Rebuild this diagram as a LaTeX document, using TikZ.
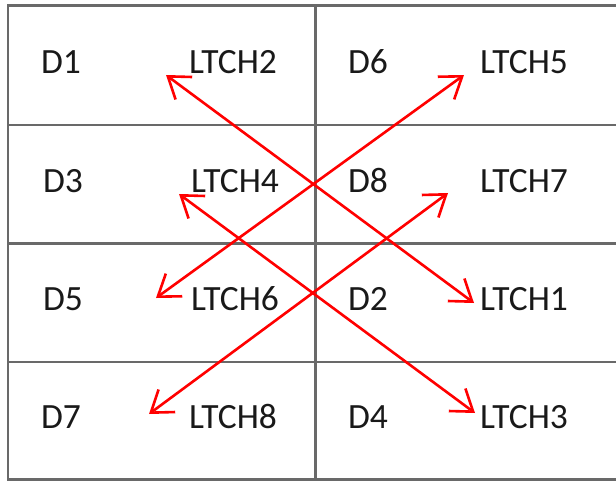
\documentclass[tikz,border=0pt]{standalone}
\usepackage{fontspec}
\setmainfont{Carlito}
\usetikzlibrary{arrows.meta}
\definecolor{gridgray}{RGB}{105,105,105}
\definecolor{arrred}{RGB}{255,0,0}
\tikzset{
  gridline/.style={draw=gridgray, line width=2.2pt},
  lbl/.style={anchor=base west, inner sep=0pt, outer sep=0pt, text=black!90,
    font=\fontsize{35.5}{42}\selectfont},
  redarrow/.style={draw=arrred, line width=2.6pt,
    {Straight Barb[length=20pt,width=28pt,line width=2.6pt]}-{Straight Barb[length=20pt,width=28pt,line width=2.6pt]}}
}
\begin{document}
\begin{tikzpicture}[x=1pt,y=-1pt]
\useasboundingbox (0,0) rectangle (616,482);
% grid
\draw[gridline] (616,5.5) -- (8,5.5) -- (8,479.5) -- (616,479.5);
\draw[gridline] (8,125) -- (616,125);
\draw[gridline] (8,243.5) -- (616,243.5);
\draw[gridline] (8,362) -- (616,362);
\draw[gridline] (315.5,5.5) -- (315.5,479.5);
% labels
\node[lbl] (D1) at (41,73) {D1};
\node[lbl] (L2) at (189,73) {LTCH2};
\node[lbl] (D6) at (348,73) {D6};
\node[lbl] (L5) at (480,73) {LTCH5};
\node[lbl] (D3) at (43,192) {D3};
\node[lbl] (L4) at (191,192) {LTCH4};
\node[lbl] (D8) at (348,192) {D8};
\node[lbl] (L7) at (480,192) {LTCH7};
\node[lbl] (D5) at (43,310) {D5};
\node[lbl] (L6) at (191,310) {LTCH6};
\node[lbl] (D2) at (348,310) {D2};
\node[lbl] (L1) at (480,310) {LTCH1};
\node[lbl] (D7) at (41,428) {D7};
\node[lbl] (L8) at (189,428) {LTCH8};
\node[lbl] (D4) at (348,428) {D4};
\node[lbl] (L3) at (480,428) {LTCH3};
% arrow end points
\coordinate (a2) at (166,75);
\coordinate (a1) at (474,303);
\coordinate (a5) at (464,75);
\coordinate (a6) at (156,298);
\coordinate (a4) at (179,194);
\coordinate (a3) at (475,413);
\coordinate (a7) at (448,193);
\coordinate (a8) at (149,414);
% arrows
\draw[redarrow] (a2) -- (a1);
\draw[redarrow] (a5) -- (a6);
\draw[redarrow] (a4) -- (a3);
\draw[redarrow] (a7) -- (a8);
\end{tikzpicture}
\end{document}
